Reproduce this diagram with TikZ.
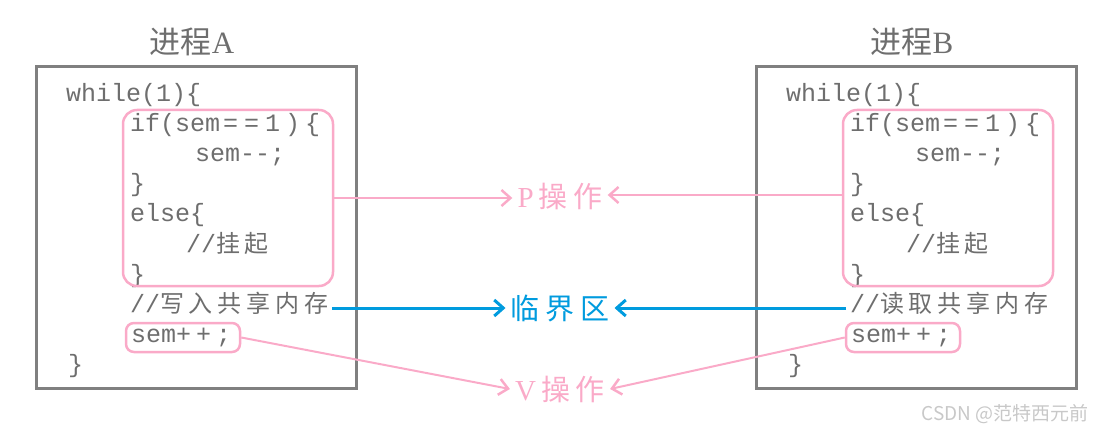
\documentclass[tikz,border=0pt]{standalone}
\usepackage{fontspec}
\setmainfont{Liberation Serif}
\setmonofont{Liberation Mono}
\newfontfamily\cjk{Noto Sans CJK SC}
\newfontfamily\cjkc{Noto Sans CJK SC}[LetterSpace=20]
\usetikzlibrary{arrows.meta}
\definecolor{boxgray}{RGB}{128,128,128}
\definecolor{codegray}{RGB}{110,110,110}
\definecolor{pinkc}{RGB}{250,170,200}
\definecolor{bluec}{RGB}{0,155,222}
\definecolor{wmgray}{RGB}{200,200,200}
\begin{document}
\begin{tikzpicture}[x=1pt,y=-1pt,
  code/.style={anchor=base west,inner sep=0pt,text=codegray,font=\ttfamily\fontsize{25}{25}\selectfont},
  cmt/.style={anchor=base west,inner sep=4pt,text=codegray,font=\ttfamily\fontsize{25}{25}\selectfont},
  procbox/.style={draw=boxgray,line width=3pt,minimum width=320pt,minimum height=321pt,inner sep=0pt},
  title/.style={text=codegray,font=\fontsize{31}{31}\selectfont},
  pinkbox/.style={draw=pinkc,line width=2.5pt,rounded corners=14pt,minimum width=210pt,minimum height=176pt,inner sep=0pt},
  pinksmall/.style={draw=pinkc,line width=2.5pt,rounded corners=8pt,minimum width=114pt,minimum height=29pt,inner sep=0pt},
  oplabel/.style={font=\fontsize{29}{29}\selectfont,inner sep=5pt},
  parr/.style={draw=pinkc,line width=2pt,-{Straight Barb[length=9pt,width=16pt,line width=2.5pt]}},
  barr/.style={draw=bluec,line width=3pt,-{Straight Barb[length=9pt,width=16pt,line width=3pt]}}
]
\useasboundingbox (0,0) rectangle (1096,433);
\foreach \p/\dx/\cm in {A/0/写入, B/720/读取}{
  \node[procbox] (box\p) at (196+\dx,227.5) {};
  \node[title] (title\p) at (192+\dx,42) {{\cjk 进程}\p};
  \node[code] (w\p) at (66+\dx,102) {while(1)\{};
  \node[code] (if\p) at (130+\dx,132) {if(sem\kern3pt=\kern6pt=\kern6pt1\kern5pt)\kern5pt\{};
  \node[code] (dec\p) at (195+\dx,162) {sem-{}-;};
  \node[code] (c1\p) at (130+\dx,192) {\}};
  \node[code] (el\p) at (130+\dx,222) {else\{};
  \node[code] (hang\p) at (186+\dx,252) {//{\cjkc\fontsize{24}{24}\selectfont 挂起}};
  \node[code] (c2\p) at (130+\dx,282) {\}};
  \node[cmt] (c\p) at (126+\dx,312) {//{\cjkc\fontsize{24}{24}\selectfont \cm 共享内存}};
  \node[code] (inc\p) at (131+\dx,342) {sem+\kern5pt+\kern5pt;};
  \node[code] (c3\p) at (68+\dx,372) {\}};
  \node[pinkbox] (p\p) at (228+\dx,198) {};
  \node[pinksmall] (v\p) at (183+\dx,337.5) {};
}
\node[oplabel,text=pinkc] (Plab) at (560,196) {P\kern5pt{\cjkc 操作}};
\node[oplabel,text=bluec] (Clab) at (560,308) {{\cjkc 临界区}};
\node[oplabel,text=pinkc] (Vlab) at (560,389) {V\kern5pt{\cjkc 操作}};
\draw[parr] (pA.east) -- (pA.east -| Plab.west);
\draw[parr] (pB.west) ++(0,-3) -- (Plab.east |- {(0,195)});
\draw[barr] (cA.east |- Clab.west) -- (Clab.west);
\draw[barr] (cB.west |- Clab.east) -- (Clab.east);
\draw[parr] (vA.east) -- (Vlab.west);
\draw[parr] (vB.west) -- (Vlab.east);
\node[text=wmgray,font=\cjk\fontsize{19}{19}\selectfont,anchor=east] (wm) at (1092,414) {CSDN @范特西元前};
\end{tikzpicture}
\end{document}
